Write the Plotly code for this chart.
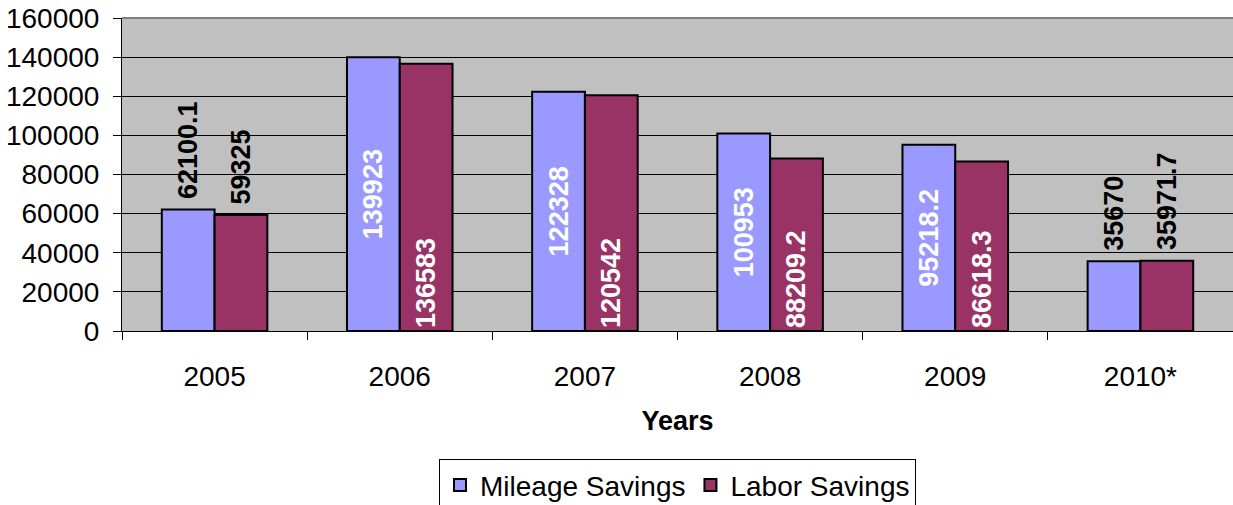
import plotly.graph_objects as go

years = ["2005", "2006", "2007", "2008", "2009", "2010*"]
mileage = [62100.1, 139923, 122328, 100953, 95218.2, 35670]
labor = [59325, 136583, 120542, 88209.2, 86618.3, 35971.7]
label_pos = ["outside", "inside", "inside", "inside", "inside", "outside"]

FONT = "Liberation Sans, Arial, sans-serif"


def labels(vals):
    # small non-breaking gap between an outside label and its bar top
    return [("\u00a0" if p == "outside" else "") + f"{v:g}" for v, p in zip(vals, label_pos)]


fig = go.Figure()
for name, vals, color, anchor in [
    ("Mileage Savings", mileage, "#9999FF", "middle"),
    ("Labor Savings", labor, "#993366", "start"),
]:
    fig.add_trace(go.Bar(
        x=years, y=vals, name=name,
        marker=dict(color=color, line=dict(color="black", width=2)),
        text=labels(vals),
        textposition=label_pos,
        textangle=-90,
        insidetextanchor=anchor,
        constraintext="none",
        cliponaxis=False,
        insidetextfont=dict(family=FONT, size=27, color="white", weight="bold"),
        outsidetextfont=dict(family=FONT, size=27, color="black", weight="bold"),
    ))

fig.update_layout(
    width=1233, height=505,
    margin=dict(l=122, r=0, t=18, b=174, autoexpand=False),
    paper_bgcolor="white",
    plot_bgcolor="#C0C0C0",
    barmode="group",
    bargap=0.43,
    bargroupgap=0,
    font=dict(family=FONT, size=28, color="black"),
    showlegend=True,
    legend=dict(
        orientation="h", x=0.5, xanchor="center", y=-0.41, yanchor="top",
        bgcolor="white", bordercolor="black", borderwidth=1,
        font=dict(family=FONT, size=28, color="black"),
        tracegroupgap=0,
    ),
    xaxis=dict(
        showline=True, linecolor="black", linewidth=1,
        ticks="outside", ticklen=8, tickcolor="black", tickson="boundaries",
        ticklabelstandoff=20,
        showgrid=False, automargin=False,
        tickfont=dict(family=FONT, size=28, color="black"),
        title=dict(text="<b>Years</b>", standoff=20,
                   font=dict(family=FONT, size=27, color="black")),
    ),
    yaxis=dict(
        range=[0, 160000], dtick=20000, tickformat="d",
        showline=True, linecolor="black", linewidth=1,
        ticks="outside", ticklen=8, tickcolor="black",
        ticklabelstandoff=8, automargin=False,
        tickfont=dict(family=FONT, size=28, color="black"),
        showgrid=True, gridcolor="black", gridwidth=1,
        zeroline=False,
    ),
    shapes=[dict(type="line", xref="paper", yref="paper", x0=0, x1=1, y0=1, y1=1,
                 line=dict(color="#808080", width=2))],
)

fig.write_html(
    "out.html",
    config={"displayModeBar": False},
    post_script="document.body.style.margin='0';document.body.style.overflow='hidden';",
)
